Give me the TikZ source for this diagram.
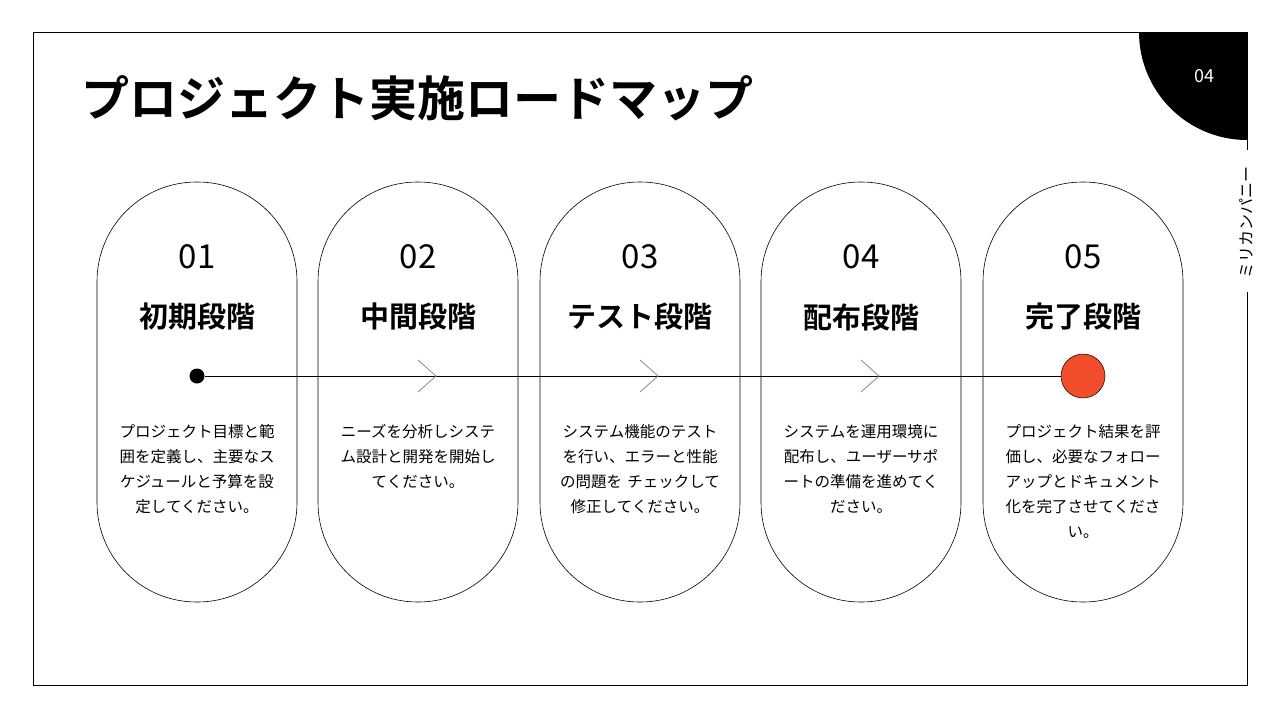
\documentclass[tikz,border=0pt]{standalone}
\usepackage{fontspec}
\setmainfont{Noto Sans CJK JP}
\newfontfamily\jpb{Noto Sans CJK JP Bold}
\definecolor{orng}{HTML}{F24E2E}
\begin{document}
\begin{tikzpicture}[x=1pt,y=-1pt,
  pill/.style={draw=black,line width=0.6pt,rounded corners=99.5pt,minimum width=200pt,minimum height=420pt},
  num/.style={font=\fontsize{33}{33}\selectfont},
  head/.style={font=\jpb\fontsize{29}{29}\selectfont},
  body/.style={font=\fontsize{15.5}{25}\selectfont,align=center,text width=180pt,anchor=north},
  chev/.style={draw=gray,line width=0.7pt}]
\useasboundingbox (0,0) rectangle (1280,720);
\fill[white] (0,0) rectangle (1280,720);
\draw[line width=0.6pt] (1247,150) -- (1247,32) -- (33,32) -- (33,685) -- (1247,685) -- (1247,292);
\begin{scope}
\clip (33,32) rectangle (1247,685);
\fill[black] (1247,32) circle (108);
\end{scope}
\node[text=white,font=\fontsize{18}{18}\selectfont] (pg) at (1204,76) {04};
\node[rotate=90,font=\fontsize{16}{16}\selectfont] (co) at (1246,222) {ミリカンパニー};
\node[anchor=west,font=\jpb\fontsize{48}{48}\selectfont] (title) at (78,98) {プロジェクト実施ロードマップ};
\foreach \i/\x/\n/\h/\t in {
 1/197/01/初期段階/{プロジェクト目標と範\\囲を定義し、主要なス\\ケジュールと予算を設\\定してください。},
 2/418/02/中間段階/{ニーズを分析しシステ\\ム設計と開発を開始し\\てください。},
 3/640/03/テスト段階/{システム機能のテスト\\を行い、エラーと性能\\の問題を チェックして\\修正してください。},
 4/861/04/配布段階/{システムを運用環境に\\配布し、ユーザーサポ\\ートの準備を進めてく\\ださい。},
 5/1083/05/完了段階/{プロジェクト結果を評\\価し、必要なフォロー\\アップとドキュメント\\化を完了させてくださ\\い。}} {
  \node[pill] (p\i) at (\x,392) {};
  \node[num] (n\i) at (\x,257) {\n};
  \node[head] (h\i) at (\x,317) {\h};
  \node[body] (b\i) at (\x,421) {\t};
}
\node[circle,fill=black,inner sep=0,minimum size=15pt] (d1) at (197,376) {};
\node[circle,fill=orng,draw=black,line width=0.5pt,inner sep=0,minimum size=44pt] (d5) at (1083,376) {};
\draw[line width=0.6pt] (d1) -- (d5);
\foreach \x in {418,640,861}
  \draw[chev] (\x,360) -- (\x+18,376) -- (\x,392);
\end{tikzpicture}
\end{document}
